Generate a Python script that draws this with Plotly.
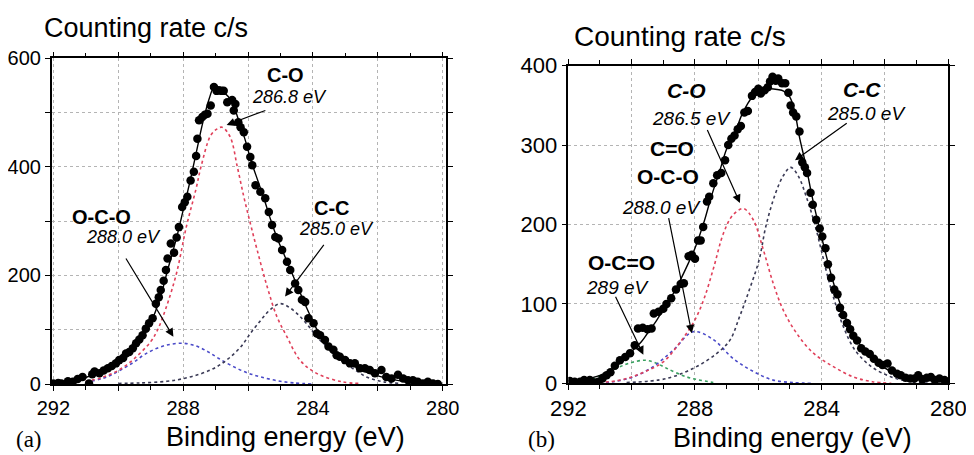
import plotly.graph_objects as go

# ---------------- Panel (a) data ----------------
a_pts_E = [292.0, 291.85, 291.75, 291.55, 291.4, 291.25, 291.1, 290.9, 290.8, 290.73, 290.58, 290.45,
           290.32, 290.2, 290.07, 289.97, 289.85, 289.76, 289.66, 289.55, 289.45, 289.35, 289.25, 289.15,
           289.05, 288.94, 288.84, 288.75, 288.69, 288.6, 288.53, 288.48, 288.38, 288.28, 288.2, 288.13,
           288.03, 287.95, 287.87, 287.77, 287.67, 287.6, 287.56, 287.51, 287.41, 287.33, 287.25, 287.15,
           287.05, 286.97, 286.9, 286.82, 286.75, 286.64, 286.49, 286.44, 286.39, 286.3, 286.23, 286.13,
           286.03, 285.93, 285.87, 285.77, 285.62, 285.47, 285.36, 285.26, 285.16, 285.06, 284.95, 284.8,
           284.7, 284.55, 284.45, 284.34, 284.24, 284.14, 283.98, 283.88, 283.78, 283.63, 283.52, 283.37,
           283.27, 283.17, 283.01, 282.86, 282.71, 282.55, 282.4, 282.25, 282.09, 281.89, 281.74, 281.58,
           281.38, 281.22, 281.07, 280.92, 280.77, 280.61, 280.46, 280.3, 280.15]
a_pts_I = [1, 2, 1, 5, 4, 9, 13, 1, 18, 23, 20, 25,
           29, 33, 38, 44, 48, 56, 59, 66, 75, 82, 90, 102,
           112, 121, 148, 160, 173, 190, 210, 231, 259, 242, 270, 289,
           326, 335, 345, 375, 391, 420, 452, 486, 492, 496, 498, 513,
           547, 540, 541, 540, 540, 519, 523, 504, 516, 482, 473, 464,
           437, 418, 403, 366, 354, 342, 317, 293, 271, 268, 247, 225,
           210, 185, 173, 155, 151, 121, 112, 93, 90, 81, 69, 63,
           53, 50, 44, 38, 38, 29, 29, 26, 20, 26, 13, 10,
           17, 10, 7, 7, 4, 1, 4, 1, 0]

a_fit_E = [292, 291.5, 291, 290.5, 290, 289.5, 289, 288.7, 288.5, 288.2, 288, 287.8, 287.6, 287.4, 287.2,
           287.05, 286.9, 286.7, 286.5, 286.3, 286.1, 285.9, 285.7, 285.5, 285.3, 285.1, 284.9, 284.7,
           284.5, 284.3, 284.1, 283.9, 283.7, 283.5, 283.2, 283, 282.7, 282.4, 282, 281.6, 281.2, 280.8, 280.2]
a_fit_I = [1, 4, 12, 24, 40, 68, 113, 160, 205, 270, 320, 370, 425, 480, 525,
           546, 540, 535, 520, 488, 452, 410, 375, 340, 302, 268, 240, 212,
           183, 155, 128, 103, 84, 68, 52, 42, 32, 23, 15, 9, 5, 3, 1]

a_co_E = [291, 290.5, 290, 289.5, 289, 288.8, 288.5, 288.2, 287.9, 287.6, 287.45, 287.15, 286.95, 286.8,
          286.55, 286.33, 286.13, 285.93, 285.72, 285.41, 285.11, 284.8, 284.4, 283.9, 283.1, 282.5]
a_co_I = [5, 12, 25, 47, 78, 98, 145, 205, 290, 360, 400, 458, 470, 473,
          455, 400, 345, 296, 247, 179, 124, 87, 44, 20, 4, 1]

a_oco_E = [291, 290.5, 290.2, 289.8, 289.5, 289.2, 288.8, 288.4, 288.0, 287.6, 287.25, 286.9, 286.45,
           286, 285.6, 285.1, 284.6, 284]
a_oco_I = [3, 10, 17, 30, 41, 54, 66, 73, 75, 70, 60, 47, 32, 20, 13, 6, 2, 0]

a_cc_E = [290, 289.3, 288.5, 288.07, 287.6, 287.15, 286.85, 286.54, 286.2, 285.93, 285.6, 285.3, 285.0,
          284.7, 284.39, 284.1, 283.88, 283.6, 283.37, 283.1, 282.86, 282.6, 282.35, 282.1, 281.83, 281.3]
a_cc_I = [1, 2, 5, 9, 16, 26, 36, 50, 70, 93, 118, 138, 148,
          140, 124, 104, 87, 70, 56, 43, 32, 22, 13, 8, 4, 1]

# ---------------- Panel (b) data ----------------
b_pts_E = [291.95, 291.8, 291.63, 291.5, 291.32, 291.18, 291.05, 290.92, 290.79, 290.67, 290.53, 290.37,
           290.2, 290.05, 289.9, 289.8, 289.65, 289.5, 289.37, 289.3, 289.15, 289.0, 288.9, 288.75, 288.6,
           288.45, 288.35, 288.2, 288.1, 288.0, 287.9, 287.82, 287.74, 287.62, 287.55, 287.42, 287.3,
           287.17, 287.05, 286.95, 286.85, 286.75, 286.65, 286.55, 286.44, 286.33, 286.2, 286.1, 286.0,
           285.92, 285.8, 285.7, 285.63, 285.55, 285.45, 285.37, 285.25, 285.15, 285.05, 284.98, 284.9,
           284.8, 284.7, 284.61, 284.53, 284.46, 284.35, 284.28, 284.17, 284.06, 283.98, 283.88, 283.8,
           283.7, 283.6, 283.5, 283.42, 283.32, 283.2, 283.1, 283.0, 282.88, 282.75, 282.62, 282.48,
           282.35, 282.2, 282.08, 281.92, 281.78, 281.62, 281.5, 281.35, 281.2, 281.07, 280.95, 280.82,
           280.68, 280.55, 280.42, 280.28, 280.12, 280.02]
b_pts_I = [3, 2, 2, 4, 4, 1, 2, 6, 10, 14, 22, 29,
           33, 38, 48, 69, 70, 68, 69, 88, 90, 94, 100, 107, 118,
           125, 126, 160, 162, 157, 180, 180, 197, 229, 235, 252, 262,
           265, 281, 300, 308, 312, 320, 324, 341, 343, 362, 367, 371,
           365, 369, 373, 380, 386, 381, 384, 378, 378, 366, 350, 341,
           336, 317, 278, 272, 265, 240, 225, 206, 195, 185, 170, 150,
           133, 118, 112, 95, 86, 76, 68, 60, 54, 44, 40, 37,
           31, 26, 23, 25, 16, 12, 10, 7, 6, 6, 10, 5,
           7, 8, 4, 6, 4, 2]

b_fit_E = [292, 291.5, 291, 290.5, 290, 289.7, 289.5, 289.2, 289, 288.7, 288.5, 288.2, 288, 287.7, 287.5,
           287.2, 287, 286.7, 286.5, 286.2, 286, 285.8, 285.6, 285.4, 285.2, 285, 284.85, 284.7, 284.5,
           284.3, 284.1, 283.9, 283.7, 283.5, 283.3, 283.1, 282.9, 282.6, 282.3, 282, 281.7, 281.4, 281,
           280.5, 280]
b_fit_I = [3, 5, 10, 21, 40, 52, 63, 80, 93, 112, 127, 152, 170, 205, 233,
           270, 295, 320, 340, 360, 366, 370, 371, 370, 368, 360, 342, 310, 275,
           235, 200, 168, 137, 110, 88, 70, 55, 40, 28, 19, 13, 8, 5,
           3, 2]

b_co_E = [291.2, 290.5, 290, 289.5, 289, 288.5, 288, 287.7, 287.4, 287.1, 286.8, 286.47, 286.16, 285.84,
          285.53, 285.21, 284.79, 284.26, 283.63, 283, 282.4, 281.8]
b_co_I = [1, 3, 8, 16, 27, 50, 80, 108, 147, 189, 212, 220, 206, 168,
          126, 92, 63, 38, 21, 8, 2, 0]

b_oco_E = [291, 290.58, 289.95, 289.32, 288.68, 288.05, 287.42, 286.79, 286.16, 285.53, 284.9, 284.3]
b_oco_I = [0, 2, 8, 21, 42, 65, 55, 31, 15, 4, 1, 0]

b_cc_E = [290.16, 288.9, 287.95, 287.3, 286.9, 286.59, 286.28, 285.97, 285.76, 285.45, 285.2, 284.98,
          284.75, 284.46, 284.2, 283.99, 283.78, 283.57, 283.31, 282.95, 282.43, 281.8, 281.18, 280.5]
b_cc_I = [1, 6, 21, 38, 54, 84, 118, 156, 198, 240, 262, 272,
          262, 232, 198, 164, 130, 101, 71, 42, 21, 8, 2, 0]

b_ocdo_E = [291.6, 291.32, 290.58, 290.1, 289.58, 289.2, 288.9, 288.26, 287.42]
b_ocdo_I = [1, 4, 17, 25, 29, 25, 19, 8, 1]

x_tick_vals = [292, 290, 288, 286, 284, 282, 280]
x_tick_text = ["292", "", "288", "", "284", "", "280"]
ya_tick_vals = [0, 100, 200, 300, 400, 500, 600]
ya_tick_text = ["0", "", "200", "", "400", "", "600"]
yb_tick_vals = [0, 100, 200, 300, 400]
yb_tick_text = ["0", "100", "200", "300", "400"]

FONT = "Liberation Sans, Arial, Helvetica, sans-serif"
SERIF = "Liberation Serif, Times New Roman, serif"
RED = "#e0405a"
BLUE = "#4a4ac8"
DARK = "#3a3a55"
GREEN = "#3aa060"

# the page places the figure 8 px in from the top-left corner (body margin)
OFF = 8
W, H = 974 - OFF, 455 - OFF


def px(x):
    return (x - OFF) / W


def py(y):
    return 1 - (y - OFF) / H


fig = go.Figure()


def comp(x, y, color, xa, ya):
    fig.add_trace(go.Scatter(x=x, y=y, mode="lines", line=dict(color=color, width=1.6, dash="dot", shape="spline"),
                             xaxis=xa, yaxis=ya, showlegend=False, hoverinfo="skip"))


# panel a
comp(a_oco_E, a_oco_I, BLUE, "x", "y")
comp(a_cc_E, a_cc_I, DARK, "x", "y")
comp(a_co_E, a_co_I, RED, "x", "y")
fig.add_trace(go.Scatter(x=a_fit_E, y=a_fit_I, mode="lines", line=dict(color="black", width=1.4, shape="spline"),
                         xaxis="x", yaxis="y", showlegend=False))
fig.add_trace(go.Scatter(x=a_pts_E, y=a_pts_I, mode="markers", marker=dict(color="black", size=8.5),
                         xaxis="x", yaxis="y", showlegend=False))
# panel b
comp(b_ocdo_E, b_ocdo_I, GREEN, "x2", "y2")
comp(b_oco_E, b_oco_I, BLUE, "x2", "y2")
comp(b_cc_E, b_cc_I, DARK, "x2", "y2")
comp(b_co_E, b_co_I, RED, "x2", "y2")
fig.add_trace(go.Scatter(x=b_fit_E, y=b_fit_I, mode="lines", line=dict(color="black", width=1.4, shape="spline"),
                         xaxis="x2", yaxis="y2", showlegend=False))
fig.add_trace(go.Scatter(x=b_pts_E, y=b_pts_I, mode="markers", marker=dict(color="black", size=8.5),
                         xaxis="x2", yaxis="y2", showlegend=False))

axis_common = dict(showline=True, linecolor="black", linewidth=1.5, mirror="all", ticks="outside",
                   ticklen=5, tickwidth=1.2, tickcolor="black", showgrid=True, gridcolor="#b4b4b4",
                   griddash="dot", gridwidth=1, zeroline=False, automargin=False)

fig.update_layout(
    template="none",
    width=W, height=H, margin=dict(l=0, r=0, t=0, b=0, pad=0, autoexpand=False),
    paper_bgcolor="white", plot_bgcolor="white",
    xaxis=dict(domain=[px(51.7), px(446)], range=[292.05, 279.9], tickmode="array", tickvals=x_tick_vals,
               ticktext=x_tick_text, anchor="y", tickfont=dict(family=FONT, size=20, color="black"),
               minor=dict(dtick=1, tick0=280, ticks="outside", ticklen=4, tickcolor="black", showgrid=False),
               **axis_common),
    yaxis=dict(domain=[py(384), py(58.3)], range=[0, 600], tickmode="array", tickvals=ya_tick_vals,
               ticktext=ya_tick_text, anchor="x", tickfont=dict(family=FONT, size=20, color="black"),
               **axis_common),
    xaxis2=dict(domain=[px(568.3), px(948.3)], range=[292, 280], tickmode="array", tickvals=x_tick_vals,
                ticktext=x_tick_text, anchor="y2", tickfont=dict(family=FONT, size=22, color="black"),
                minor=dict(dtick=1, tick0=280, ticks="outside", ticklen=4, tickcolor="black", showgrid=False),
                **axis_common),
    yaxis2=dict(domain=[py(383.3), py(65.7)], range=[0, 400], tickmode="array", tickvals=yb_tick_vals,
                ticktext=yb_tick_text, anchor="x2", tickfont=dict(family=FONT, size=22, color="black"),
                **axis_common),
)

ann = []


def txt(x, y, text, size, xref="x", yref="y", bold=False, italic=False, xanchor="center", family=FONT):
    t = text
    if bold:
        t = "<b>" + t + "</b>"
    if italic:
        t = "<i>" + t + "</i>"
    ann.append(dict(x=x, y=y, xref=xref, yref=yref, text=t, showarrow=False, xanchor=xanchor,
                    yanchor="middle", font=dict(family=family, size=size, color="black")))


def arrow(hx, hy, tx, ty, xr, yr):
    ann.append(dict(x=hx, y=hy, ax=tx, ay=ty, xref=xr, yref=yr, axref=xr, ayref=yr, text="",
                    showarrow=True, arrowhead=2, arrowsize=1.4, arrowwidth=1.2, arrowcolor="black"))


# panel a labels
txt(284.86, 569, "C-O", 20, bold=True)
txt(284.71, 529, "286.8 eV", 18, italic=True)
txt(283.42, 324, "C-C", 20, bold=True)
txt(283.27, 285, "285.0 eV", 18, italic=True)
txt(290.51, 308, "O-C-O", 20, bold=True)
txt(289.85, 271, "288.0 eV", 18, italic=True)
arrow(286.66, 477, 285.42, 505, "x", "y")
arrow(284.86, 161, 283.63, 259, "x", "y")
arrow(288.3, 87, 289.79, 234, "x", "y")

# panel b labels
txt(288.26, 369, "C-O", 21, xref="x2", yref="y2", bold=True, italic=True)
txt(288.1, 334, "286.5 eV", 19, xref="x2", yref="y2", italic=True)
txt(288.74, 296, "C=O", 21, xref="x2", yref="y2", bold=True)
txt(288.84, 260, "O-C-O", 21, xref="x2", yref="y2", bold=True)
txt(289.05, 222, "288.0 eV", 19, xref="x2", yref="y2", italic=True)
txt(290.31, 152, "O-C=O", 21, xref="x2", yref="y2", bold=True)
txt(290.42, 121, "289 eV", 19, xref="x2", yref="y2", italic=True)
txt(282.74, 370, "C-C", 21, xref="x2", yref="y2", bold=True, italic=True)
txt(282.58, 340, "285.0 eV", 19, xref="x2", yref="y2", italic=True)
arrow(286.58, 227, 287.63, 321, "x2", "y2")
arrow(288.1, 63, 288.84, 210, "x2", "y2")
arrow(289.63, 36, 290.53, 111, "x2", "y2")
arrow(284.84, 281, 283.16, 329, "x2", "y2")

# axis titles and panel letters (paper coords)
txt(px(41.7), py(28), "Counting rate c/s", 27, xref="paper", yref="paper", xanchor="left")
txt(px(571.7), py(37), "Counting rate c/s", 28, xref="paper", yref="paper", xanchor="left")
txt(px(285), py(437), "Binding energy (eV)", 27, xref="paper", yref="paper")
txt(px(792), py(438), "Binding energy (eV)", 27, xref="paper", yref="paper")
txt(px(29), py(439), "(a)", 23, xref="paper", yref="paper", family=SERIF)
txt(px(541), py(439), "(b)", 23, xref="paper", yref="paper", family=SERIF)

fig.update_layout(annotations=ann)
fig.write_html("out.html")
